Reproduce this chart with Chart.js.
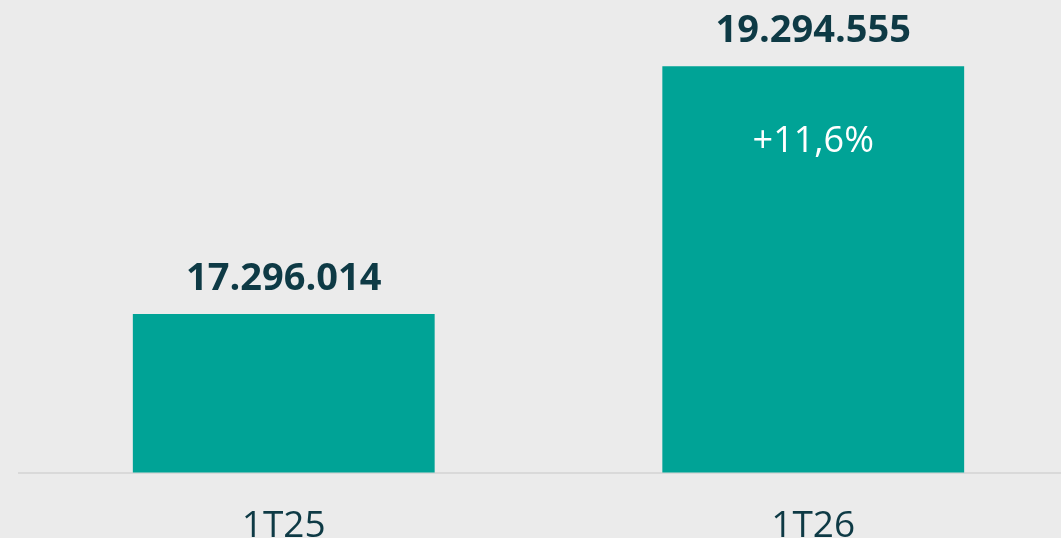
<!DOCTYPE html>
<html lang="pt-BR">
<head>
<meta charset="UTF-8">
<title>1T25 x 1T26</title>
<script src="https://cdn.jsdelivr.net/npm/chart.js@4.4.1/dist/chart.umd.min.js"></script>
<style>
    html, body {
        margin: 0;
        padding: 0;
        background: #ebebeb;
        overflow: hidden;
    }
    .grafico-box {
        position: relative;
        width: 1080px;
        height: 538px;
        overflow: hidden;
    }
</style>
</head>
<body>
<div class="grafico-box">
    <canvas id="graficoTrimestre" width="1080" height="581"></canvas>
</div>
<script>
// Dados do gráfico
const trimestres = ['1T25', '1T26'];
const totais = [17296014, 19294555];
const variacoes = [null, '+11,6%'];

const corBarra = '#00a396';
const corTexto = '#0e3a45';
const fonte = "'Open Sans', 'Noto Sans', sans-serif";

// Formata número no padrão brasileiro (ponto como separador de milhar)
function formatarNumero(valor) {
    return String(valor).replace(/\B(?=(\d{3})+(?!\d))/g, '.');
}

// Plugin para escrever os valores em cima das barras e a variação dentro
const rotulosPlugin = {
    id: 'rotulos',
    afterDatasetsDraw(chart) {
        const ctx = chart.ctx;
        const meta = chart.getDatasetMeta(0);
        ctx.save();
        ctx.textAlign = 'center';
        ctx.textBaseline = 'middle';
        meta.data.forEach((barra, i) => {
            ctx.fillStyle = corTexto;
            ctx.font = `bold 38px ${fonte}`;
            ctx.fillText(formatarNumero(totais[i]), barra.x, barra.y - 35);

            if (variacoes[i]) {
                ctx.fillStyle = '#ffffff';
                ctx.font = `36px ${fonte}`;
                ctx.fillText(variacoes[i], barra.x, barra.y + 76);
            }
        });
        ctx.restore();
    }
};

document.addEventListener('DOMContentLoaded', function () {
    const ctx = document.getElementById('graficoTrimestre').getContext('2d');

    new Chart(ctx, {
        type: 'bar',
        data: {
            labels: trimestres,
            datasets: [{
                data: totais,
                backgroundColor: corBarra,
                borderWidth: 0,
                barPercentage: 0.57,
                categoryPercentage: 1
            }]
        },
        options: {
            responsive: false,
            animation: false,
            layout: {
                padding: { left: 19, right: 2, top: 0, bottom: 0 }
            },
            scales: {
                y: {
                    display: false,
                    min: 16017600,
                    max: 19828600
                },
                x: {
                    grid: { display: false, drawTicks: false },
                    border: { color: '#d9d9d9', width: 2 },
                    ticks: {
                        color: corTexto,
                        padding: 32,
                        font: { family: fonte, size: 37 }
                    }
                }
            },
            plugins: {
                legend: { display: false },
                tooltip: { enabled: false }
            }
        },
        plugins: [rotulosPlugin]
    });
});
</script>
</body>
</html>
